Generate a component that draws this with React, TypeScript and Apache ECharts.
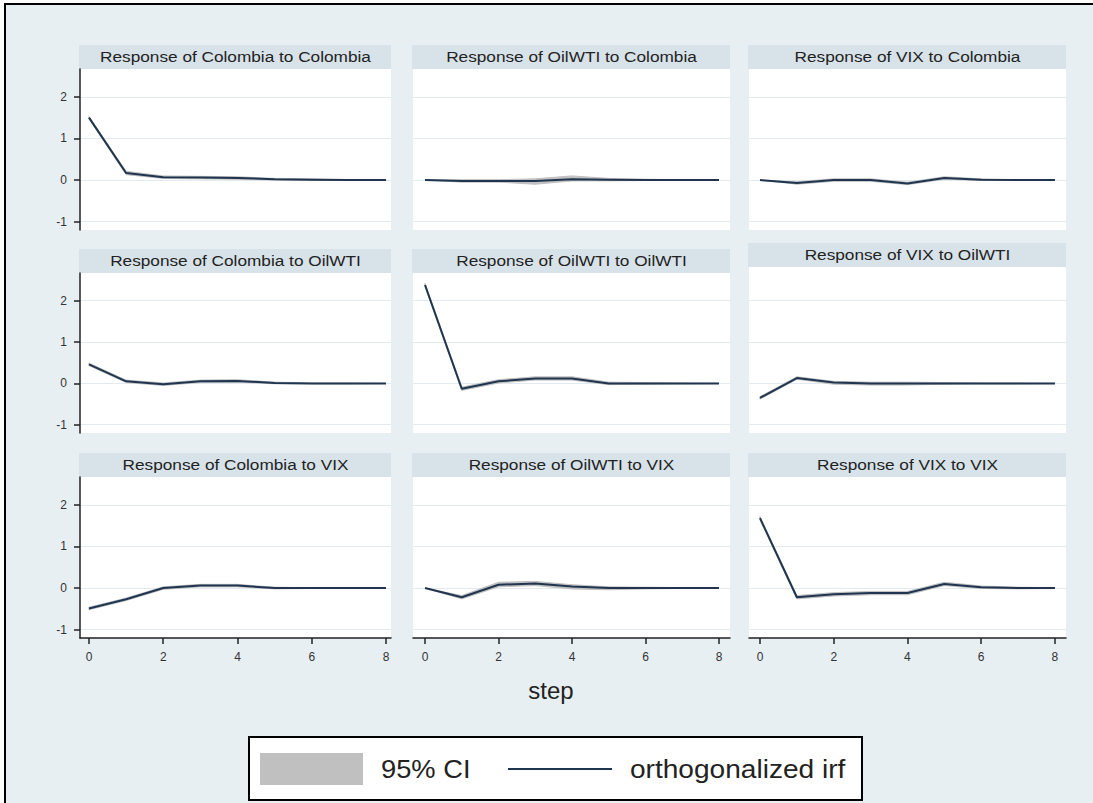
import React, { useEffect, useRef } from "react";
import * as echarts from "echarts";

// ---------- data ----------
const steps = [0, 1, 2, 3, 4, 5, 6, 7, 8];
const yTicks = [-1, 0, 1, 2];
const xTicks = [0, 2, 4, 6, 8];

// impulse: Colombia
const irf_Colombia_Colombia = [1.5, 0.17, 0.07, 0.06, 0.05, 0.02, 0.01, 0.0, 0.0];
const lo_Colombia_Colombia = [1.47, 0.13, 0.04, 0.03, 0.02, 0.0, -0.01, -0.01, -0.01];
const hi_Colombia_Colombia = [1.53, 0.21, 0.1, 0.09, 0.08, 0.04, 0.03, 0.01, 0.01];

const irf_OilWTI_Colombia = [0.0, -0.02, -0.02, -0.02, 0.02, 0.01, 0.0, 0.0, 0.0];
const lo_OilWTI_Colombia = [0.0, -0.05, -0.05, -0.1, -0.02, -0.02, -0.01, -0.01, 0.0];
const hi_OilWTI_Colombia = [0.0, 0.01, 0.01, 0.03, 0.1, 0.04, 0.02, 0.01, 0.0];

const irf_VIX_Colombia = [0.0, -0.07, 0.0, 0.0, -0.08, 0.05, 0.01, 0.0, 0.0];
const lo_VIX_Colombia = [0.0, -0.1, -0.03, -0.03, -0.11, 0.02, -0.01, -0.01, 0.0];
const hi_VIX_Colombia = [0.0, -0.04, 0.03, 0.03, -0.05, 0.08, 0.03, 0.01, 0.0];

// impulse: OilWTI
const irf_Colombia_OilWTI = [0.46, 0.05, -0.02, 0.05, 0.06, 0.01, 0.0, 0.0, 0.0];
const lo_Colombia_OilWTI = [0.43, 0.02, -0.05, 0.02, 0.03, -0.01, -0.01, -0.01, 0.0];
const hi_Colombia_OilWTI = [0.49, 0.08, 0.01, 0.08, 0.09, 0.03, 0.01, 0.01, 0.0];

const irf_OilWTI_OilWTI = [2.38, -0.13, 0.05, 0.12, 0.12, 0.0, 0.0, 0.0, 0.0];
const lo_OilWTI_OilWTI = [2.34, -0.17, 0.01, 0.08, 0.08, -0.03, -0.02, -0.01, 0.0];
const hi_OilWTI_OilWTI = [2.42, -0.09, 0.09, 0.16, 0.16, 0.03, 0.02, 0.01, 0.0];

const irf_VIX_OilWTI = [-0.35, 0.13, 0.02, 0.0, 0.0, 0.0, 0.0, 0.0, 0.0];
const lo_VIX_OilWTI = [-0.38, 0.1, -0.02, -0.04, -0.04, -0.02, -0.01, -0.01, 0.0];
const hi_VIX_OilWTI = [-0.32, 0.16, 0.05, 0.03, 0.03, 0.02, 0.01, 0.01, 0.0];

// impulse: VIX
const irf_Colombia_VIX = [-0.49, -0.27, 0.0, 0.06, 0.06, 0.0, 0.0, 0.0, 0.0];
const lo_Colombia_VIX = [-0.52, -0.3, -0.03, 0.03, 0.03, -0.02, -0.01, -0.01, 0.0];
const hi_Colombia_VIX = [-0.46, -0.24, 0.03, 0.09, 0.09, 0.02, 0.01, 0.01, 0.0];

const irf_OilWTI_VIX = [0.0, -0.22, 0.08, 0.11, 0.04, 0.0, 0.0, 0.0, 0.0];
const lo_OilWTI_VIX = [0.0, -0.26, 0.03, 0.06, -0.02, -0.04, -0.02, -0.01, 0.0];
const hi_OilWTI_VIX = [0.0, -0.18, 0.14, 0.16, 0.08, 0.03, 0.02, 0.01, 0.0];

const irf_VIX_VIX = [1.68, -0.22, -0.15, -0.12, -0.12, 0.1, 0.02, 0.0, 0.0];
const lo_VIX_VIX = [1.64, -0.26, -0.19, -0.16, -0.16, 0.06, -0.01, -0.02, -0.01];
const hi_VIX_VIX = [1.72, -0.18, -0.11, -0.08, -0.08, 0.14, 0.05, 0.02, 0.01];

// rows = impulse, cols = response
const panels = [
  { response: "Colombia", impulse: "Colombia", irf: irf_Colombia_Colombia, lo: lo_Colombia_Colombia, hi: hi_Colombia_Colombia },
  { response: "OilWTI", impulse: "Colombia", irf: irf_OilWTI_Colombia, lo: lo_OilWTI_Colombia, hi: hi_OilWTI_Colombia },
  { response: "VIX", impulse: "Colombia", irf: irf_VIX_Colombia, lo: lo_VIX_Colombia, hi: hi_VIX_Colombia },
  { response: "Colombia", impulse: "OilWTI", irf: irf_Colombia_OilWTI, lo: lo_Colombia_OilWTI, hi: hi_Colombia_OilWTI },
  { response: "OilWTI", impulse: "OilWTI", irf: irf_OilWTI_OilWTI, lo: lo_OilWTI_OilWTI, hi: hi_OilWTI_OilWTI },
  { response: "VIX", impulse: "OilWTI", irf: irf_VIX_OilWTI, lo: lo_VIX_OilWTI, hi: hi_VIX_OilWTI },
  { response: "Colombia", impulse: "VIX", irf: irf_Colombia_VIX, lo: lo_Colombia_VIX, hi: hi_Colombia_VIX },
  { response: "OilWTI", impulse: "VIX", irf: irf_OilWTI_VIX, lo: lo_OilWTI_VIX, hi: hi_OilWTI_VIX },
  { response: "VIX", impulse: "VIX", irf: irf_VIX_VIX, lo: lo_VIX_VIX, hi: hi_VIX_VIX },
];

const ciLabel = "95% CI";
const irfLabel = "orthogonalized irf";
const xTitle = "step";

// ---------- layout / style ----------
const colLeft = [80, 413, 749];
const colWidth = [311, 317, 317];
const xMin = [-0.242, -0.327, -0.298];
const xMax = [8.135, 8.3, 8.3];
const rowTop = [69, 273, 477];
const rowHeight = [161, 160, 161];
const stripShift = [0, 0, 0, 0, 0, -6, 0, 0, 0];
const yMin = -1.2;
const yMax = 2.67;

const BG = "#e8eff3";
const STRIP = "#d8e2e9";
const GRIDLINE = "#e3eaef";
const CI_COLOR = "#c0c0c0";
const LINE_COLOR = "#1f3550";
const AXIS_COLOR = "#222";
const FONT = "Arial, 'Liberation Sans', sans-serif";

function buildOption() {
  const grid: any[] = [];
  const xAxis: any[] = [];
  const yAxis: any[] = [];
  const series: any[] = [];
  const graphic: any[] = [];

  graphic.push({
    type: "rect",
    z: -20,
    silent: true,
    shape: { x: 5, y: 4, width: 1100, height: 812 },
    style: { fill: BG, stroke: "#000", lineWidth: 2 },
  });

  panels.forEach((p, i) => {
    const r = Math.floor(i / 3);
    const c = i % 3;
    grid.push({ left: colLeft[c], top: rowTop[r], width: colWidth[c], height: rowHeight[r] });

    const shift = stripShift[i];
    graphic.push({
      type: "rect",
      z: -19,
      silent: true,
      shape: { x: colLeft[c], y: rowTop[r] + shift, width: colWidth[c], height: rowHeight[r] - shift },
      style: { fill: "#fff" },
    });
    const stripTop = rowTop[r] - 24 + shift;
    graphic.push({
      type: "rect",
      z: -18,
      silent: true,
      shape: { x: colLeft[c] - 1, y: stripTop, width: colWidth[c] + 1, height: 24 },
      style: { fill: STRIP },
    });
    graphic.push({
      type: "text",
      z: 10,
      silent: true,
      x: colLeft[c] + colWidth[c] / 2,
      y: stripTop + 12,
      scaleX: 1.23,
      style: {
        text: `Response of ${p.response} to ${p.impulse}`,
        font: `14px ${FONT}`,
        fill: "#222",
        align: "center",
        verticalAlign: "middle",
        textAlign: "center",
        textVerticalAlign: "middle",
      },
    });

    const showX = r === 2;
    const showY = c === 0;
    xAxis.push({
      type: "value",
      gridIndex: i,
      min: xMin[c],
      max: xMax[c],
      axisLine: { show: showX, onZero: false, lineStyle: { color: AXIS_COLOR, width: 1.5 } },
      axisTick: { show: showX, customValues: xTicks, length: 6, lineStyle: { color: AXIS_COLOR, width: 1.5 } },
      axisLabel: { show: showX, customValues: xTicks, fontSize: 12, color: "#333", fontFamily: FONT, margin: 13 },
      splitLine: { show: false },
    });
    yAxis.push({
      type: "value",
      gridIndex: i,
      min: yMin,
      max: yMax,
      axisLine: { show: showY, onZero: false, lineStyle: { color: AXIS_COLOR, width: 1.5 } },
      axisTick: { show: showY, customValues: yTicks, length: 6, lineStyle: { color: AXIS_COLOR, width: 1.5 } },
      axisLabel: { show: showY, customValues: yTicks, fontSize: 12, color: "#333", fontFamily: FONT, margin: 13 },
      splitLine: { show: true, lineStyle: { color: GRIDLINE, width: 1 } },
    });

    const lo = p.lo;
    const hi = p.hi;
    series.push({
      type: "custom",
      name: ciLabel,
      xAxisIndex: i,
      yAxisIndex: i,
      silent: true,
      z: 2,
      data: steps.map((s, k) => [s, lo[k], hi[k]]),
      encode: { x: 0, y: [1, 2] },
      renderItem: (params: any, api: any) => {
        if (params.dataIndex !== 0) return null;
        const upper = steps.map((s, k) => api.coord([s, hi[k]]));
        const lower = steps.map((s, k) => api.coord([s, lo[k]])).reverse();
        return {
          type: "polygon",
          shape: { points: upper.concat(lower) },
          style: { fill: CI_COLOR, stroke: CI_COLOR, lineWidth: 1 },
        };
      },
    });
    series.push({
      type: "line",
      name: irfLabel,
      xAxisIndex: i,
      yAxisIndex: i,
      z: 3,
      symbol: "none",
      silent: true,
      data: steps.map((s, k) => [s, p.irf[k]]),
      lineStyle: { color: LINE_COLOR, width: 2 },
    });
  });

  // x title
  graphic.push({
    type: "text",
    z: 10,
    x: 551,
    y: 690,
    style: {
      text: xTitle,
      font: `24px ${FONT}`,
      fill: "#222",
      align: "center",
      verticalAlign: "middle",
      textAlign: "center",
      textVerticalAlign: "middle",
    },
  });

  // legend
  graphic.push({
    type: "rect",
    z: 5,
    shape: { x: 249, y: 737, width: 613, height: 63 },
    style: { fill: "#fff", stroke: "#000", lineWidth: 2 },
  });
  graphic.push({
    type: "rect",
    z: 6,
    shape: { x: 260, y: 753, width: 103, height: 32 },
    style: { fill: CI_COLOR },
  });
  graphic.push({
    type: "text",
    z: 6,
    x: 381,
    y: 769,
    scaleX: 1.05,
    style: {
      text: ciLabel,
      font: `26px ${FONT}`,
      fill: "#222",
      align: "left",
      verticalAlign: "middle",
      textAlign: "left",
      textVerticalAlign: "middle",
    },
  });
  graphic.push({
    type: "line",
    z: 6,
    shape: { x1: 508, y1: 769, x2: 612, y2: 769 },
    style: { stroke: LINE_COLOR, lineWidth: 2 },
  });
  graphic.push({
    type: "text",
    z: 6,
    x: 630,
    y: 769,
    scaleX: 1.08,
    style: {
      text: irfLabel,
      font: `26px ${FONT}`,
      fill: "#222",
      align: "left",
      verticalAlign: "middle",
      textAlign: "left",
      textVerticalAlign: "middle",
    },
  });

  return {
    animation: false,
    backgroundColor: "#ffffff",
    grid,
    xAxis,
    yAxis,
    series,
    graphic,
  };
}

export default function App() {
  const ref = useRef<HTMLDivElement>(null);
  useEffect(() => {
    if (!ref.current) return;
    const chart = echarts.init(ref.current, null, { renderer: "svg" });
    chart.setOption(buildOption() as any);
    return () => chart.dispose();
  }, []);
  return (
    <div
      ref={ref}
      style={{ position: "absolute", left: 0, top: 0, width: 1093, height: 803 }}
    />
  );
}
